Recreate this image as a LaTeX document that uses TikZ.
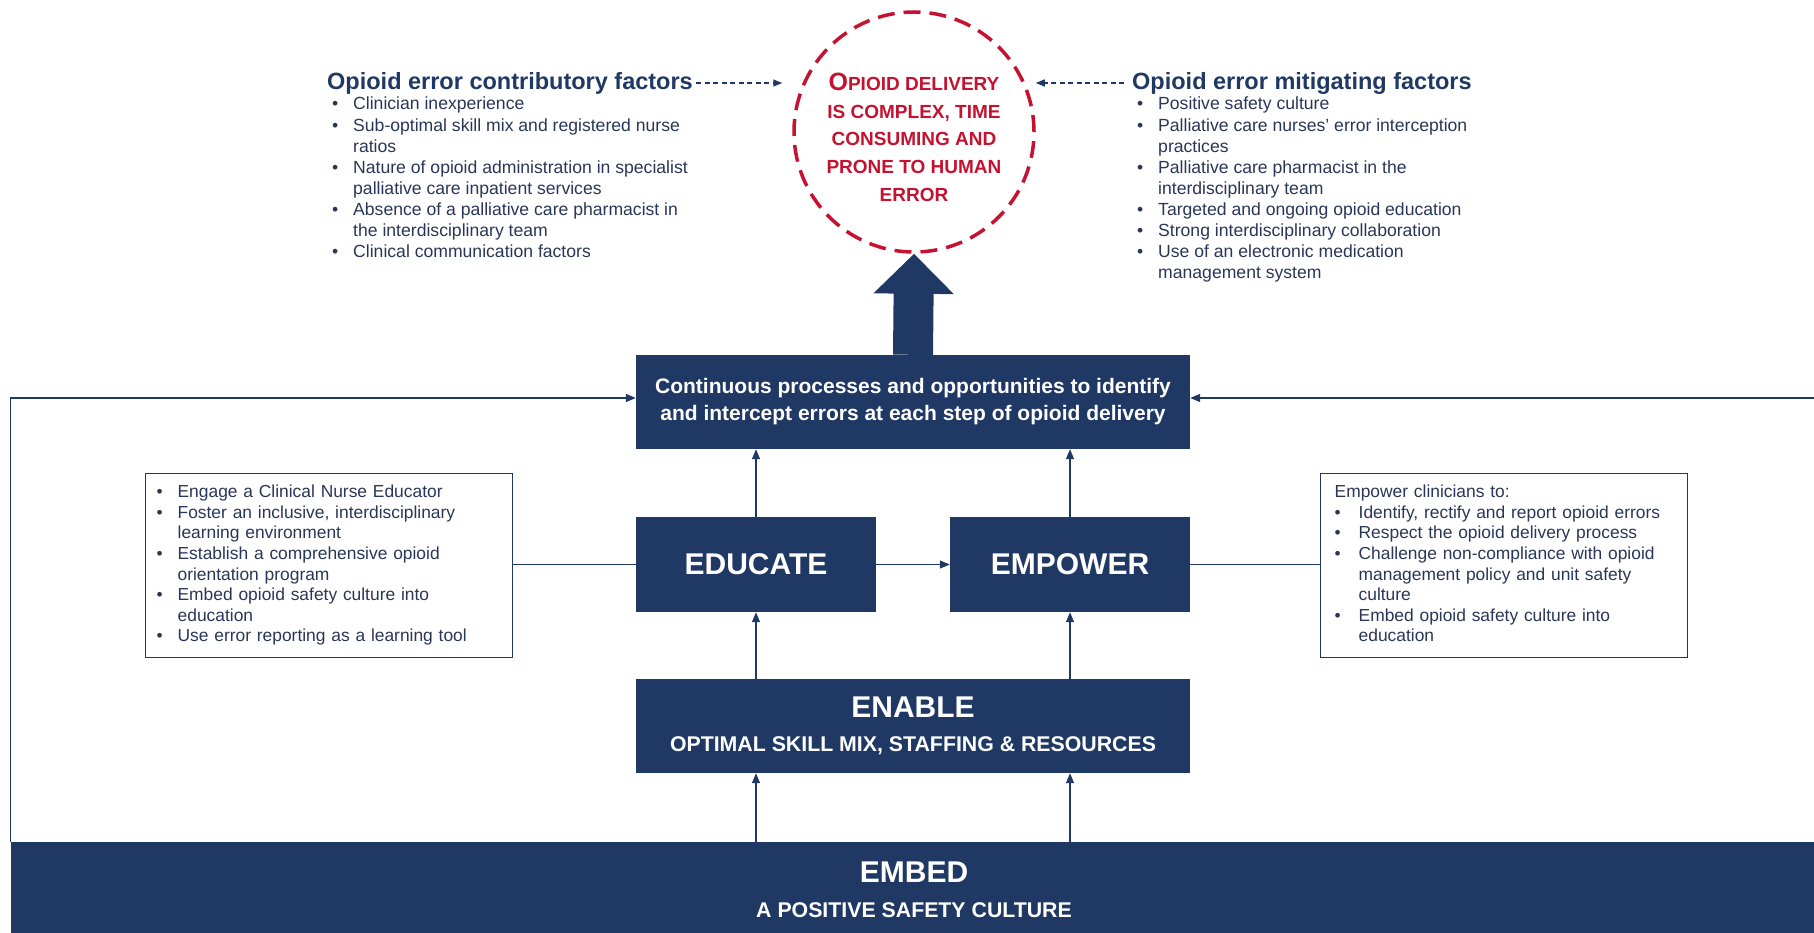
\documentclass[tikz,border=0pt]{standalone}
\usepackage{fontspec}
\setmainfont{Liberation Sans}
\usetikzlibrary{arrows.meta}
\definecolor{navy}{RGB}{32,56,100}
\definecolor{redline}{RGB}{196,18,48}
\definecolor{listtext}{RGB}{42,54,88}

\begin{document}
\begin{tikzpicture}[x=1pt,y=-1pt,
    darkbox/.style={rectangle, fill=navy, inner sep=0pt, text=white, align=center},
    listbox/.style={rectangle, draw=navy, line width=1.3pt, anchor=north west, align=left,
        text=listtext, minimum height=184pt, inner ysep=0pt, font=\fontsize{17.4}{20.6}\selectfont},
    header/.style={inner sep=0pt, text=navy, font=\fontsize{23.5}{28}\selectfont\bfseries},
    factors/.style={anchor=base west, inner sep=0pt, text=listtext, font=\fontsize{17.6}{21.1}\selectfont},
    link/.style={draw=navy, line width=1.3pt},
    flow/.style={link, -{Triangle[length=10pt,width=8pt]}},
    dasharrow/.style={draw=navy, line width=1.3pt, dash pattern=on 5pt off 3.5pt, -{Triangle[length=9pt,width=7pt]}}]

    \useasboundingbox (0,0) rectangle (1814,933);
    \clip (0,0) rectangle (1814,933);

    % centre: the risk
    \node[circle, draw=redline, line width=3.5pt, dash pattern=on 17pt off 9pt, minimum size=240pt,
          inner sep=0pt, text=redline, align=center, font=\fontsize{19}{27.7}\selectfont\bfseries]
          (circ) at (914,132) {\rule{0pt}{28pt}{\fontsize{25}{27.7}\selectfont O}PIOID DELIVERY\\IS COMPLEX, TIME\\CONSUMING AND\\PRONE TO HUMAN\\ERROR};

    % factors either side
    \node[header, anchor=west] (hdrL) at (327,83) {Opioid error contributory factors};
    \node[header, anchor=west] (hdrR) at (1132,83) {Opioid error mitigating factors};

    \node[factors] (listL) at (332,110) {\begin{tabular}[t]{@{}p{21pt}@{}l@{}}
        \textbullet & Clinician inexperience\\
        \textbullet & Sub-optimal skill mix and registered nurse\\
                    & ratios\\
        \textbullet & Nature of opioid administration in specialist\\
                    & palliative care inpatient services\\
        \textbullet & Absence of a palliative care pharmacist in\\
                    & the interdisciplinary team\\
        \textbullet & Clinical communication factors
    \end{tabular}};
    \node[factors] (listR) at (1137,110) {\begin{tabular}[t]{@{}p{21pt}@{}l@{}}
        \textbullet & Positive safety culture\\
        \textbullet & Palliative care nurses' error interception\\
                    & practices\\
        \textbullet & Palliative care pharmacist in the\\
                    & interdisciplinary team\\
        \textbullet & Targeted and ongoing opioid education\\
        \textbullet & Strong interdisciplinary collaboration\\
        \textbullet & Use of an electronic medication\\
                    & management system
    \end{tabular}};

    % the framework boxes
    \node[darkbox, minimum width=554pt, minimum height=94pt, font=\fontsize{21}{27}\selectfont\bfseries]
          (cont) at (913,402) {Continuous processes and opportunities to identify\\and intercept errors at each step of opioid delivery};
    \node[darkbox, minimum width=240pt, minimum height=95pt, font=\fontsize{30}{32}\selectfont\bfseries]
          (educ) at (756,564.5) {EDUCATE};
    \node[darkbox, minimum width=240pt, minimum height=95pt, font=\fontsize{30}{32}\selectfont\bfseries]
          (emp) at (1070,564.5) {EMPOWER};
    \node[darkbox, minimum width=554pt, minimum height=94pt, font=\fontsize{21.3}{25}\selectfont\bfseries]
          (enab) at (913,726) {{\fontsize{30}{25}\selectfont ENABLE}\\[9.5pt]OPTIMAL SKILL MIX, STAFFING \& RESOURCES};
    \node[darkbox, minimum width=1806pt, minimum height=96pt, font=\fontsize{21.3}{25}\selectfont\bfseries]
          (embed) at (914,890) {{\fontsize{30}{25}\selectfont EMBED}\\[10.5pt]A POSITIVE SAFETY CULTURE};

    % side notes
    \node[listbox, inner xsep=11pt, text width=345pt] (eduList) at (145,473) {\begin{tabular}[t]{@{}p{21pt}@{}l@{}}
        \textbullet & Engage a Clinical Nurse Educator\\
        \textbullet & Foster an inclusive, interdisciplinary\\
                    & learning environment\\
        \textbullet & Establish a comprehensive opioid\\
                    & orientation program\\
        \textbullet & Embed opioid safety culture into\\
                    & education\\
        \textbullet & Use error reporting as a learning tool
    \end{tabular}};
    \node[listbox, inner xsep=14pt, text width=339pt] (empList) at (1320,473) {\begin{tabular}[t]{@{}p{24pt}@{}l@{}}
        \multicolumn{2}{@{}l@{}}{Empower clinicians to:}\\
        \textbullet & Identify, rectify and report opioid errors\\
        \textbullet & Respect the opioid delivery process\\
        \textbullet & Challenge non-compliance with opioid\\
                    & management policy and unit safety\\
                    & culture\\
        \textbullet & Embed opioid safety culture into\\
                    & education
    \end{tabular}};

    % connectors
    \draw[navy, line width=40pt, -{Triangle[length=40pt,width=78pt]}] (cont.north) -- (circ.south);
    \draw[dasharrow, shorten <=3pt, shorten >=10pt] (hdrL.east) -- (circ.west |- hdrL.east);
    \draw[dasharrow, shorten <=8pt] (hdrR.west) -- (circ.east |- hdrR.west);

    \draw[flow] (educ.north) -- (educ.north |- cont.south);
    \draw[flow] (emp.north) -- (emp.north |- cont.south);
    \draw[flow] (educ.east) -- (emp.west);
    \draw[flow] (enab.north -| educ.south) -- (educ.south);
    \draw[flow] (enab.north -| emp.south) -- (emp.south);
    \draw[flow] (embed.north -| educ.south) -- (educ.south |- enab.south);
    \draw[flow] (embed.north -| emp.south) -- (emp.south |- enab.south);

    \draw[link] (eduList.east |- educ.west) -- (educ.west);
    \draw[link] (emp.east) -- (emp.east -| empList.west);

    \draw[flow] (embed.north west) |- ([yshift=4pt]cont.west);
    \draw[flow] (embed.north east) |- ([yshift=4pt]cont.east);
\end{tikzpicture}
\end{document}
